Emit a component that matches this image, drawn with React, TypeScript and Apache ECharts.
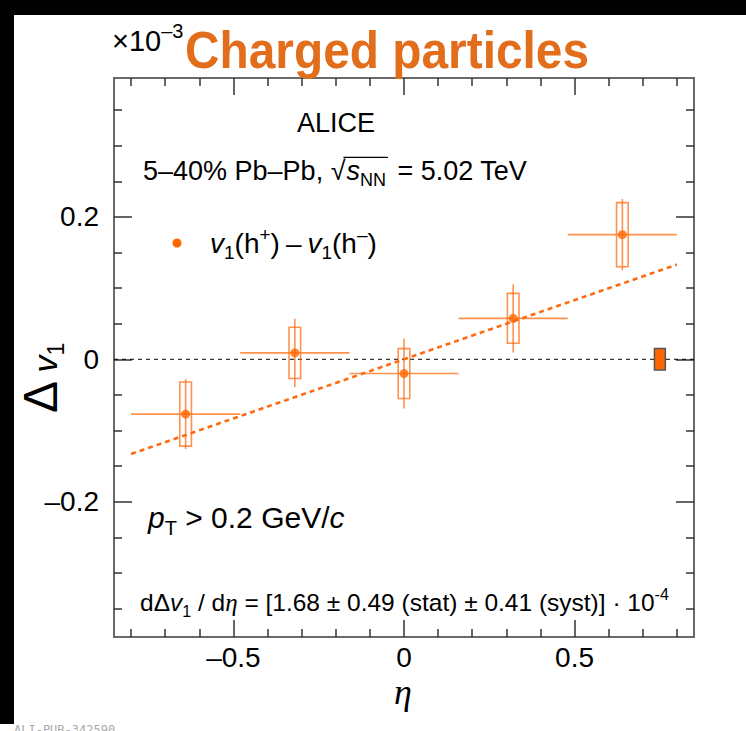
import React, { useEffect, useRef } from "react";
import * as echarts from "echarts";

// ---- data (values in units of 1e-3) ----
const etaCenters = [-0.64, -0.32, 0, 0.32, 0.64];
const etaHalfWidth = [0.16, 0.16, 0.16, 0.16, 0.16];
const deltaV1 = [-0.077, 0.009, -0.02, 0.0575, 0.175];
const statErr = [0.049, 0.048, 0.049, 0.048, 0.05];
const systErr = [0.045, 0.036, 0.035, 0.035, 0.045];
const fitLine = [
  [-0.8, -0.133],
  [0.8, 0.133],
];
const zeroLine = [
  [-0.85, 0],
  [0.85, 0],
];
const globalSystEta = [0.75];
const globalSystLo = [-0.015];
const globalSystHi = [0.015];
const xMajorTicks = [-0.5, 0, 0.5];
const xMinorTicks = [-0.8, -0.7, -0.6, -0.4, -0.3, -0.2, -0.1, 0.1, 0.2, 0.3, 0.4, 0.6, 0.7, 0.8];
const yMajorTicks = [-0.2, 0, 0.2];
const yMinorTicks = [-0.35, -0.3, -0.25, -0.15, -0.1, -0.05, 0.05, 0.1, 0.15, 0.25, 0.3, 0.35];

const ORANGE = "#ff6600";
const ERR = "rgba(255,110,20,0.75)";
const SANS = '"Liberation Sans", Arial, sans-serif';
const SERIF = '"Liberation Serif", "DejaVu Serif", serif';

type Seg = {
  t: string;
  size: number;
  italic?: boolean;
  bold?: boolean;
  family?: string;
  dy?: number;
  dx?: number;
  color?: string;
};

let measureCtx: CanvasRenderingContext2D | null = null;
function fontStr(s: Seg) {
  return `${s.italic ? "italic " : ""}${s.bold ? "bold " : ""}${s.size}px ${s.family ?? SANS}`;
}
function measure(s: Seg) {
  if (!measureCtx) measureCtx = document.createElement("canvas").getContext("2d");
  measureCtx!.font = fontStr(s);
  return measureCtx!.measureText(s.t).width;
}
function runLine(x0: number, baseline: number, segs: Seg[], color = "#000") {
  let x = x0;
  const els: any[] = [];
  for (const s of segs) {
    x += s.dx ?? 0;
    const w = measure(s);
    els.push({
      type: "text",
      x,
      y: baseline + (s.dy ?? 0) - 0.3465 * s.size,
      silent: true,
      style: {
        text: s.t,
        font: fontStr(s),
        fill: s.color ?? color,
        align: "left",
        verticalAlign: "middle",
        textAlign: "left",
        textVerticalAlign: "middle",
      },
    });
    x += w;
  }
  return { els, end: x };
}

function tickAxis(pos: string, values: number[], len: number, min: number, max: number, label?: any) {
  return {
    type: "value",
    position: pos,
    min,
    max,
    axisLine: { show: false, onZero: false },
    splitLine: { show: false },
    axisTick: {
      show: true,
      inside: true,
      length: len,
      customValues: values,
      lineStyle: { color: "#333", width: 1.5 },
    },
    axisLabel: label ?? { show: false },
  };
}

const fmt = (v: number) => (Math.abs(v) < 1e-9 ? "0" : v < 0 ? "–" + String(Math.abs(v)) : String(v));

export default function App() {
  const ref = useRef<HTMLDivElement>(null);
  useEffect(() => {
    const chart = echarts.init(ref.current!, null, { renderer: "svg" });
    const xMin = -0.85,
      xMax = 0.85,
      yMin = -0.39,
      yMax = 0.395;

    const graphics: any[] = [];
    // black border strips
    graphics.push({ type: "rect", shape: { x: 0, y: 0, width: 746, height: 15 }, style: { fill: "#000" }, silent: true });
    graphics.push({ type: "rect", shape: { x: 0, y: 0, width: 14, height: 724 }, style: { fill: "#000" }, silent: true });

    // title
    graphics.push({
      type: "text",
      x: 185,
      y: 68 - 0.3465 * 52,
      scaleX: 0.92,
      silent: true,
      style: {
        text: "Charged particles",
        font: `bold 52px ${SANS}`,
        fill: "#e26d1b",
        align: "left",
        verticalAlign: "middle",
        textAlign: "left",
        textVerticalAlign: "middle",
      },
    });
    // x10^-3
    graphics.push(
      ...runLine(112, 51, [
        { t: "×10", size: 29 },
        { t: "–3", size: 20, dy: -13 },
      ]).els
    );
    // ALICE
    graphics.push(...runLine(297, 132, [{ t: "ALICE", size: 27 }]).els);
    // energy line
    const e1 = runLine(143, 180, [{ t: "5–40% Pb–Pb, ", size: 27 }, { t: "√", size: 27 }]);
    graphics.push(...e1.els);
    const e2 = runLine(e1.end + 1, 180, [
      { t: "s", size: 27, italic: true },
      { t: "NN", size: 18, dy: 6 },
    ]);
    graphics.push(...e2.els);
    graphics.push({
      type: "line",
      shape: { x1: e1.end - 2, y1: 180 - 27 * 0.84, x2: e2.end + 2, y2: 180 - 27 * 0.84 },
      style: { stroke: "#000", lineWidth: 1.3 },
      silent: true,
    });
    graphics.push(...runLine(e2.end + 4, 180, [{ t: " = 5.02 TeV", size: 27 }]).els);

    // legend
    graphics.push({ type: "circle", shape: { cx: 177, cy: 243, r: 4.5 }, style: { fill: ORANGE }, silent: true });
    graphics.push(
      ...runLine(210, 253, [
        { t: "v", size: 28, italic: true },
        { t: "1", size: 19, dy: 6 },
        { t: "(h", size: 28 },
        { t: "+", size: 19, dy: -12 },
        { t: ")", size: 28 },
        { t: "–", size: 28, dx: 6 },
        { t: "v", size: 28, italic: true, dx: 6 },
        { t: "1", size: 19, dy: 6 },
        { t: "(h", size: 28 },
        { t: "–", size: 19, dy: -12 },
        { t: ")", size: 28 },
      ]).els
    );

    // pT
    graphics.push(
      ...runLine(148, 528, [
        { t: "p", size: 30, italic: true },
        { t: "T", size: 20, dy: 7 },
        { t: " > 0.2 GeV/", size: 30 },
        { t: "c", size: 30, italic: true },
      ]).els
    );

    // slope formula
    graphics.push(
      ...runLine(140, 611, [
        { t: "dΔ", size: 24.5 },
        { t: "v", size: 24.5, italic: true },
        { t: "1", size: 16, dy: 6 },
        { t: " / d", size: 24.5 },
        { t: "η", size: 25, italic: true, family: SERIF },
        { t: " = [1.68 ± 0.49 (stat) ± 0.41 (syst)] · 10", size: 24.5 },
        { t: "-4", size: 16, dy: -11 },
      ]).els
    );

    // x axis title
    graphics.push({
      type: "text",
      x: 403,
      y: 704 - 0.3465 * 36,
      silent: true,
      style: {
        text: "η",
        font: `italic 36px ${SERIF}`,
        fill: "#000",
        align: "center",
        verticalAlign: "middle",
        textAlign: "center",
        textVerticalAlign: "middle",
      },
    });

    // y axis title, rotated
    graphics.push({
      type: "group",
      x: 57,
      y: 413,
      rotation: Math.PI / 2,
      silent: true,
      children: runLine(0, 0, [
        { t: "Δ", size: 48 },
        { t: " ", size: 30 },
        { t: "v", size: 34, italic: true },
        { t: "1", size: 23, dy: 7 },
      ]).els,
    });

    // footer
    graphics.push({
      type: "text",
      x: 14,
      y: 724,
      silent: true,
      style: {
        text: "ALI-PUB-342590",
        font: `12px "DejaVu Sans Mono", monospace`,
        fill: "#aaa",
        align: "left",
        verticalAlign: "top",
        textAlign: "left",
        textVerticalAlign: "top",
      },
    });

    const errData = etaCenters.map((x, i) => [x, deltaV1[i], statErr[i], systErr[i], etaHalfWidth[i]]);
    const gsData = globalSystEta.map((x, i) => [x, globalSystLo[i], globalSystHi[i]]);

    const option: any = {
      animation: false,
      backgroundColor: "#fff",
      grid: {
        left: 114,
        right: 52,
        top: 78,
        bottom: 94,
        show: true,
        borderColor: "#6a6a6a",
        borderWidth: 2,
        backgroundColor: "transparent",
      },
      xAxis: [
        tickAxis("bottom", xMajorTicks, 17, xMin, xMax, {
          show: true,
          customValues: xMajorTicks,
          formatter: fmt,
          fontSize: 28,
          fontFamily: SANS,
          color: "#000",
          margin: 6,
        }),
        tickAxis("bottom", xMinorTicks, 8, xMin, xMax),
        tickAxis("top", xMajorTicks, 17, xMin, xMax),
        tickAxis("top", xMinorTicks, 8, xMin, xMax),
      ],
      yAxis: [
        tickAxis("left", yMajorTicks, 18, yMin, yMax, {
          show: true,
          customValues: yMajorTicks,
          formatter: fmt,
          fontSize: 28,
          fontFamily: SANS,
          color: "#000",
          margin: 15,
        }),
        tickAxis("left", yMinorTicks, 8, yMin, yMax),
        tickAxis("right", yMajorTicks, 18, yMin, yMax),
        tickAxis("right", yMinorTicks, 8, yMin, yMax),
      ],
      graphic: { elements: graphics },
      series: [
        {
          type: "line",
          data: zeroLine,
          symbol: "none",
          lineStyle: { color: "#000", width: 1, type: [4, 4] },
          z: 1,
          silent: true,
        },
        {
          type: "custom",
          data: gsData,
          z: 2,
          renderItem: (params: any, api: any) => {
            const x = api.value(0);
            const a = api.coord([x - 0.016, api.value(2)]);
            const b = api.coord([x + 0.016, api.value(1)]);
            return {
              type: "rect",
              shape: { x: a[0], y: a[1], width: b[0] - a[0], height: b[1] - a[1] },
              style: { fill: ORANGE, stroke: "#555", lineWidth: 1.5 },
            };
          },
        },
        {
          type: "custom",
          data: errData,
          z: 3,
          renderItem: (params: any, api: any) => {
            const x = api.value(0),
              y = api.value(1),
              st = api.value(2),
              sy = api.value(3),
              hw = api.value(4);
            const l = api.coord([x - hw, y]);
            const r = api.coord([x + hw, y]);
            const t = api.coord([x, y + st]);
            const bt = api.coord([x, y - st]);
            const b1 = api.coord([x - 0.017, y + sy]);
            const b2 = api.coord([x + 0.017, y - sy]);
            return {
              type: "group",
              children: [
                { type: "line", shape: { x1: l[0], y1: l[1], x2: r[0], y2: r[1] }, style: { stroke: ERR, lineWidth: 1.6 } },
                { type: "line", shape: { x1: t[0], y1: t[1], x2: bt[0], y2: bt[1] }, style: { stroke: ERR, lineWidth: 1.6 } },
                {
                  type: "rect",
                  shape: { x: b1[0], y: b1[1], width: b2[0] - b1[0], height: b2[1] - b1[1] },
                  style: { fill: "none", stroke: ERR, lineWidth: 1.6 },
                },
              ],
            };
          },
        },
        {
          type: "line",
          data: fitLine,
          symbol: "none",
          lineStyle: { color: "#ff6a10", width: 2.6, type: [5, 4] },
          z: 4,
          silent: true,
        },
        {
          type: "scatter",
          data: etaCenters.map((x, i) => [x, deltaV1[i]]),
          symbol: "circle",
          symbolSize: 9,
          itemStyle: { color: ORANGE },
          z: 5,
        },
      ],
    };
    chart.setOption(option);
    return () => chart.dispose();
  }, []);
  return (
    <div
      ref={ref}
      style={{ position: "fixed", left: 0, top: 0, width: 746, height: 731, background: "#fff" }}
    />
  );
}
